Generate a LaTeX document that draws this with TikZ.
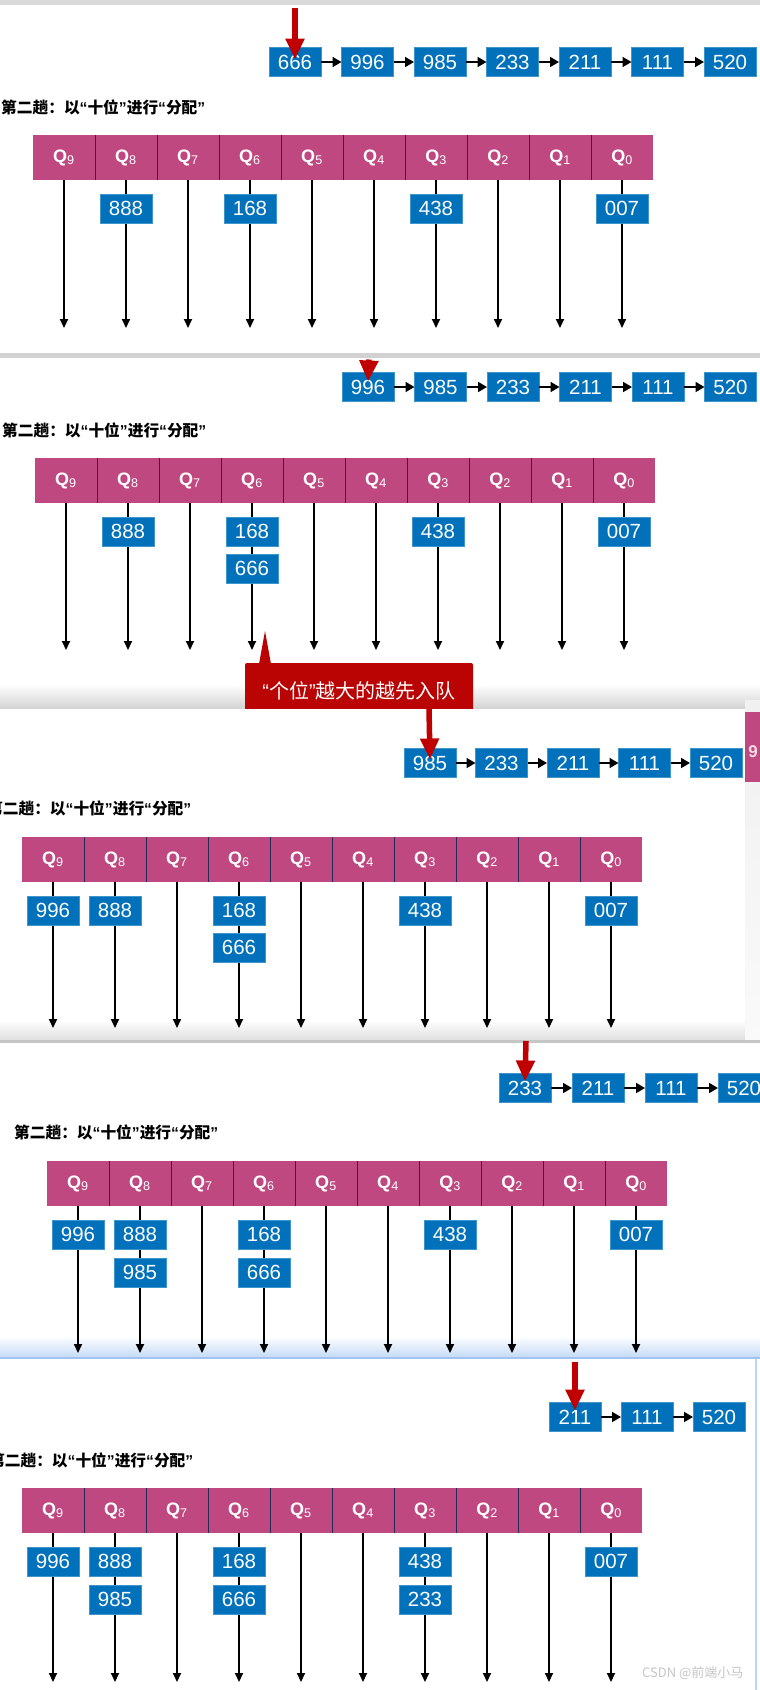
\documentclass[tikz,border=0pt]{standalone}
\usepackage{fontspec}
\setmainfont{Liberation Sans}
\newfontfamily\cjk{Noto Sans CJK SC}
\usetikzlibrary{positioning, arrows.meta, calc}

\definecolor{eblue}{RGB}{0,113,186}
\definecolor{qpink}{RGB}{192,72,128}
\definecolor{qsep}{RGB}{40,40,85}
\definecolor{hred}{RGB}{192,0,0}
\definecolor{notered}{RGB}{186,4,4}
\definecolor{edgeblue}{RGB}{160,195,240}

% narrow quotes taken from the Latin font
\newcommand{\qopen}{{\rmfamily“}}
\newcommand{\qclose}{{\rmfamily”}}

\tikzset{
  elem/.style={rectangle, fill=eblue, draw=eblue!75!white, line width=0.6pt, minimum width=52pt, minimum height=29pt, inner sep=0pt, outer sep=0pt, text=white, font=\fontsize{20.5}{20.5}\selectfont},
  qcell/.style={rectangle, fill=qpink, minimum width=62pt, minimum height=45pt, inner sep=0pt, outer sep=0pt, text=white, font=\fontsize{18}{18}\selectfont},
  sepline/.style={draw=qsep, line width=0.8pt},
  arrow/.style={line width=1.8pt, -{Triangle[length=9pt,width=8pt]}},
  larrow/.style={line width=1.8pt, -{Triangle[length=9pt,width=10pt]}},
  redarrow/.style={draw=hred, fill=hred, line width=5.5pt, -{Triangle[length=21pt,width=18pt]}},
  title/.style={font=\cjk\bfseries\fontsize{15.7}{15.7}\selectfont, inner sep=0pt, anchor=west},
  note/.style={rectangle, rounded corners=2pt, fill=notered, minimum width=228pt, minimum height=56pt, text=white, font=\cjk\fontsize{20}{20}\selectfont}
}

% queue bar: #1 prefix, #2 left x, #3 top y, #4 end of the arrows
\newcommand{\queuebar}[4]{%
  \foreach \i in {0,...,9} {
    \pgfmathtruncatemacro{\qn}{9-\i}
    \node (#1q\qn) [qcell] at ({#2+62*\i+31},{#3+22.5}) {{\bfseries Q}\textsubscript{\qn}};
    \coordinate (#1e\qn) at ({#2+62*\i+31},#4);
    \draw [arrow] (#1q\qn) -- (#1e\qn);
  }
  \foreach \qn in {0,...,8} \draw [sepline] (#1q\qn.north west) -- (#1q\qn.south west);
}

\newcommand{\passtitle}{第二趟：以\qopen 十位\qclose 进行\qopen 分配\qclose}

\begin{document}
\begin{tikzpicture}[x=1pt, y=-1pt]
        \useasboundingbox (0,0) rectangle (760,1690);
        \fill [white] (0,0) rectangle (760,1690);

        % Bandes entre les captures
        \fill [gray!30] (0,0) rectangle (760,5);
        \fill [gray!35] (0,353) rectangle (760,358);
        \coordinate (bin) at (369,359.5);
        \shade [top color=white, bottom color=gray!35] (0,684) rectangle (760,709);

        % Capture 1
        \node (al666) [elem] at (295,62) {666};
        \node (al996) [elem, right=20.5pt of al666] {996};
        \node (al985) [elem, right=20.5pt of al996] {985};
        \node (al233) [elem, right=20.5pt of al985] {233};
        \node (al211) [elem, right=20.5pt of al233] {211};
        \node (al111) [elem, right=20.5pt of al211] {111};
        \node (al520) [elem, right=20.5pt of al111] {520};
        \foreach \s/\t in {666/996, 996/985, 985/233, 233/211, 211/111, 111/520}
          \draw [larrow] (al\s) -- (al\t);
        \coordinate (ain) at (295,8);
        \draw [redarrow] (ain) -- ($(al666.north)+(0,12)$);

        \node (atitle) [title] at (1,107) {\passtitle};
        \queuebar{a}{33}{135}{328}
        \node (av888) [elem, below=14pt of aq8] {888};
        \node (av168) [elem, below=14pt of aq6] {168};
        \node (av438) [elem, below=14pt of aq3] {438};
        \node (av007) [elem, below=14pt of aq0] {007};

        % Capture 2
        \node (bl996) [elem] at (368,387) {996};
        \node (bl985) [elem, right=20.5pt of bl996] {985};
        \node (bl233) [elem, right=20.5pt of bl985] {233};
        \node (bl211) [elem, right=20.5pt of bl233] {211};
        \node (bl111) [elem, right=20.5pt of bl211] {111};
        \node (bl520) [elem, right=20.5pt of bl111] {520};
        \foreach \s/\t in {996/985, 985/233, 233/211, 211/111, 111/520}
          \draw [larrow] (bl\s) -- (bl\t);
        \draw [redarrow] (bin) -- ($(bl996.north)+(0,9)$);

        \node (btitle) [title] at (2,430) {\passtitle};
        \queuebar{b}{35}{458}{650}
        \node (bv888) [elem, below=14pt of bq8] {888};
        \node (bv168) [elem, below=14pt of bq6] {168};
        \node (bv666) [elem, below=8pt of bv168] {666};
        \node (bv438) [elem, below=14pt of bq3] {438};
        \node (bv007) [elem, below=14pt of bq0] {007};

        % Bulle
        \node (note) [note] at (359,691) {\qopen 个位\qclose 越大的越先入队};
        \coordinate (notetip) at (265,631);
        \fill [notered] (259,664) -- (notetip) -- (271,664) -- cycle;

        % Capture 3
        \shade [top color=gray!12, bottom color=gray!4] (745,700) rectangle (760,1043);
        \fill [qpink] (745,712) rectangle (760,782);
        \node (edge9) [text=white!80!qpink, font=\bfseries\fontsize{17}{17}\selectfont, inner sep=0pt] at (753,752) {9};
        \fill [white] (-5,709) rectangle (745,1040);
        \shade [top color=white, bottom color=gray!25] (-5,1020) rectangle (745,1040);
        \fill [gray!45] (-5,1040) rectangle (760,1043);

        \node (cl985) [elem] at (430,763) {985};
        \node (cl233) [elem, right=19.5pt of cl985] {233};
        \node (cl211) [elem, right=19.5pt of cl233] {211};
        \node (cl111) [elem, right=19.5pt of cl211] {111};
        \node (cl520) [elem, right=19.5pt of cl111] {520};
        \foreach \s/\t in {985/233, 233/211, 211/111, 111/520}
          \draw [larrow] (cl\s) -- (cl\t);
        \coordinate (cin) at (429,709);
        \draw [redarrow] (cin) -- ($(cl985.north)+(0,11)$);

        \node (ctitle) [title] at (-13,808) {\passtitle};
        \queuebar{c}{22}{837}{1028}
        \node (cv996) [elem, below=14pt of cq9] {996};
        \node (cv888) [elem, below=14pt of cq8] {888};
        \node (cv168) [elem, below=14pt of cq6] {168};
        \node (cv666) [elem, below=8pt of cv168] {666};
        \node (cv438) [elem, below=14pt of cq3] {438};
        \node (cv007) [elem, below=14pt of cq0] {007};

        % Capture 4
        \shade [top color=white, bottom color=edgeblue!60] (0,1336) rectangle (760,1357);
        \fill [edgeblue] (0,1357) rectangle (760,1359);

        \node (dl233) [elem] at (525,1088) {233};
        \node (dl211) [elem, right=21pt of dl233] {211};
        \node (dl111) [elem, right=21pt of dl211] {111};
        \node (dl520) [elem, right=21pt of dl111] {520};
        \foreach \s/\t in {233/211, 211/111, 111/520}
          \draw [larrow] (dl\s) -- (dl\t);
        \coordinate (din) at (526,1041);
        \draw [redarrow] (din) -- ($(dl233.north)+(0,8)$);

        \node (dtitle) [title] at (14,1132) {\passtitle};
        \queuebar{d}{47}{1161}{1353}
        \node (dv996) [elem, below=14pt of dq9] {996};
        \node (dv888) [elem, below=14pt of dq8] {888};
        \node (dv985) [elem, below=9pt of dv888] {985};
        \node (dv168) [elem, below=14pt of dq6] {168};
        \node (dv666) [elem, below=9pt of dv168] {666};
        \node (dv438) [elem, below=14pt of dq3] {438};
        \node (dv007) [elem, below=14pt of dq0] {007};

        % Capture 5
        \fill [edgeblue!70] (755,1359) rectangle (757,1690);

        \node (el211) [elem] at (575,1417) {211};
        \node (el111) [elem, right=20pt of el211] {111};
        \node (el520) [elem, right=20pt of el111] {520};
        \foreach \s/\t in {211/111, 111/520}
          \draw [larrow] (el\s) -- (el\t);
        \coordinate (ein) at (575,1362);
        \draw [redarrow] (ein) -- ($(el211.north)+(0,8)$);

        \node (etitle) [title] at (-11,1460) {\passtitle};
        \queuebar{e}{22}{1488}{1682}
        \node (ev996) [elem, below=14pt of eq9] {996};
        \node (ev888) [elem, below=14pt of eq8] {888};
        \node (ev985) [elem, below=9pt of ev888] {985};
        \node (ev168) [elem, below=14pt of eq6] {168};
        \node (ev666) [elem, below=9pt of ev168] {666};
        \node (ev438) [elem, below=14pt of eq3] {438};
        \node (ev233) [elem, below=9pt of ev438] {233};
        \node (ev007) [elem, below=14pt of eq0] {007};

        \node (mark) [font=\cjk\fontsize{13}{13}\selectfont, text=gray!45, anchor=base west, inner sep=0pt] at (642,1677) {CSDN @前端小马};

    \end{tikzpicture}
\end{document}
